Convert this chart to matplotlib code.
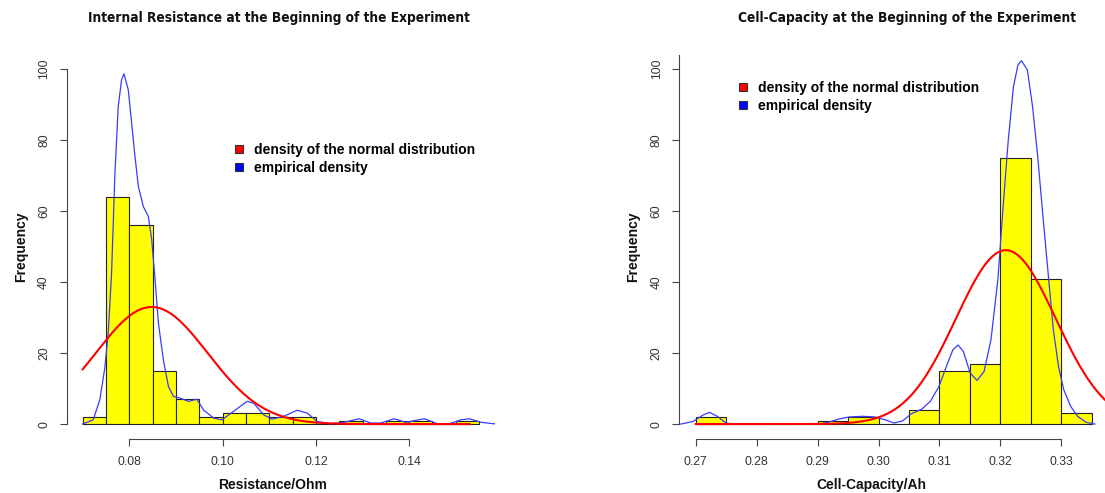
import numpy as np
import matplotlib
matplotlib.use("Agg")
import matplotlib.pyplot as plt
from matplotlib.patches import Patch

# --- data ---
# internal resistance histogram (bin edges in Ohm, counts)
res_edges = [0.070, 0.075, 0.080, 0.085, 0.090, 0.095, 0.100, 0.105, 0.110,
             0.115, 0.120, 0.125, 0.130, 0.135, 0.140, 0.145, 0.150, 0.155]
res_counts = [2, 64, 56, 15, 7, 2, 3, 3, 2, 2, 0, 1, 0, 1, 1, 0, 1]

# empirical density (scaled to frequency), traced points
res_kde_x = [0.06996, 0.07226, 0.07369, 0.07477, 0.07548, 0.07620, 0.07692, 0.07763,
             0.07835, 0.07885, 0.07978, 0.08050, 0.08122, 0.08194, 0.08301, 0.08409,
             0.08480, 0.08552, 0.08624, 0.08731, 0.08839, 0.08946, 0.09090, 0.09269,
             0.09448, 0.09591, 0.09806, 0.09986, 0.10237, 0.10523, 0.10667, 0.10882,
             0.11061, 0.11312, 0.11599, 0.11814, 0.12029, 0.12315, 0.12602, 0.12925,
             0.13176, 0.13391, 0.13677, 0.13928, 0.14323, 0.14609, 0.14860, 0.15111,
             0.15290, 0.15541, 0.15878]
res_kde_y = [0, 1.2, 6.9, 16.0, 25.6, 42.5, 70.7, 89.5,
             97.0, 98.7, 94.2, 84.8, 75.4, 67.0, 61.3, 58.5,
             52.0, 40.7, 28.5, 18.0, 10.6, 7.8, 7.3, 6.4,
             7.0, 4.0, 1.7, 1.2, 3.6, 6.4, 5.9, 2.6,
             1.4, 2.2, 3.9, 3.1, 0.75, 0.1, 0.5, 1.5,
             0.3, 0.3, 1.5, 0.5, 1.5, 0.1, 0.1, 1.2,
             1.5, 0.5, 0]
# normal fit: mean, sd, peak height (frequency)
res_mean, res_sd, res_peak = 0.0848, 0.0120, 33.0
res_range = (0.070, 0.153)

# cell capacity histogram
cap_edges = [0.270, 0.275, 0.280, 0.285, 0.290, 0.295, 0.300, 0.305, 0.310,
             0.315, 0.320, 0.325, 0.330, 0.335]
cap_counts = [2, 0, 0, 0, 1, 2, 0, 4, 15, 17, 75, 41, 3]

cap_kde_x = [0.26755, 0.26955, 0.27125, 0.27227, 0.27353, 0.27495, 0.27637, 0.29002,
             0.29173, 0.29343, 0.29514, 0.29741, 0.29940, 0.30111, 0.30253, 0.30395,
             0.30537, 0.30708, 0.30850, 0.30992, 0.31135, 0.31220, 0.31305, 0.31391,
             0.31504, 0.31618, 0.31732, 0.31846, 0.31959, 0.32045, 0.32130, 0.32215,
             0.32289, 0.32346, 0.32443, 0.32528, 0.32613, 0.32699, 0.32784, 0.32869,
             0.32955, 0.33040, 0.33154, 0.33267, 0.33410, 0.33552]
cap_kde_y = [0, 0.75, 2.6, 3.3, 2.2, 0.3, 0, 0,
             0.5, 1.4, 2.0, 2.2, 2.0, 1.2, 0.3, 0.9,
             2.9, 4.2, 6.4, 10.6, 17.2, 20.9, 22.3, 20.5,
             14.4, 12.3, 14.8, 23.8, 40.7, 61.3, 80.1, 95.1,
             101.2, 102.4, 99.8, 89.5, 75.4, 58.5, 42.5, 26.6,
             16.2, 9.7, 5.0, 2.2, 0.5, 0]
cap_mean, cap_sd, cap_peak = 0.3209, 0.0082, 49.0
cap_range = (0.270, 0.338)

res_ticks = [0.08, 0.10, 0.12, 0.14]
cap_ticks = [0.27, 0.28, 0.29, 0.30, 0.31, 0.32, 0.33]
y_ticks = [0, 20, 40, 60, 80, 100]

TXT = "#333333"
W, H = 1105, 493


def panel(ax, edges, counts, kde_x, kde_y, mean, sd, peak, rng, xticks, fmt, ytop):
    ax.bar(edges[:-1], counts, width=np.diff(edges), align="edge",
           color="#ffff00", edgecolor="#222222", linewidth=0.8, zorder=2)
    ax.plot(kde_x, kde_y, color="#3a3aff", linewidth=0.9, zorder=3)
    xs = np.linspace(rng[0], rng[1], 300)
    ax.plot(xs, peak * np.exp(-0.5 * ((xs - mean) / sd) ** 2),
            color="#ff0000", linewidth=1.5, zorder=4)

    for s in ["top", "right"]:
        ax.spines[s].set_visible(False)
    ax.spines["left"].set_bounds(0, ytop)
    ax.spines["bottom"].set_bounds(xticks[0], xticks[-1])
    for s in ["left", "bottom"]:
        ax.spines[s].set_color("#444444")
        ax.spines[s].set_linewidth(0.8)

    ax.set_xticks(xticks)
    ax.set_xticklabels([fmt.format(t) for t in xticks])
    ax.set_yticks(y_ticks)
    ax.set_yticklabels([str(t) for t in y_ticks], rotation=90, va="center")
    ax.tick_params(length=5, width=0.8, color="#444444", labelcolor=TXT,
                   labelsize=8.7, pad=7)
    for lab in ax.get_xticklabels() + ax.get_yticklabels():
        lab.set_family("Liberation Sans")
    ax.set_ylim(-4.2, 104)
    ax.text(-0.107, 0.5, "Frequency", transform=ax.transAxes, rotation=90,
            ha="center", va="center", fontsize=10, fontweight="bold",
            family="Liberation Sans", color="#111111")


fig = plt.figure(figsize=(W / 100, H / 100), dpi=100)

ax1 = fig.add_axes([66.7 / W, 1 - 439 / H, 428.3 / W, 384 / H])
ax1.set_xlim(0.06658, 0.1584)
panel(ax1, res_edges, res_counts, res_kde_x, res_kde_y,
      res_mean, res_sd, res_peak, res_range, res_ticks, "{:.2f}", 100)

ax2 = fig.add_axes([679.3 / W, 1 - 439 / H, 428.3 / W, 384 / H])
ax2.set_xlim(0.2673, 0.3376)
panel(ax2, cap_edges, cap_counts, cap_kde_x, cap_kde_y,
      cap_mean, cap_sd, cap_peak, cap_range, cap_ticks, "{:.2f}", 104)

# axis labels
fig.text(272.5 / W, 1 - 485 / H, "Resistance/Ohm", ha="center", va="center",
         fontsize=10, fontweight="bold", family="Liberation Sans", color="#111111")
fig.text(871.3 / W, 1 - 485 / H, "Cell-Capacity/Ah", ha="center", va="center",
         fontsize=10, fontweight="bold", family="Liberation Sans", color="#111111")

# titles
fig.text(278.5 / W, 1 - 18 / H, "Internal Resistance at the Beginning of the Experiment",
         ha="center", va="center", fontsize=9.8, fontweight="bold",
         family="DejaVu Sans", fontstretch="condensed", color="#111111")
fig.text(906.5 / W, 1 - 18 / H, "Cell-Capacity at the Beginning of the Experiment",
         ha="center", va="center", fontsize=9.8, fontweight="bold",
         family="DejaVu Sans", fontstretch="condensed", color="#111111")

# legends
handles = [Patch(facecolor="#ff0000", edgecolor="#333333", linewidth=0.8),
           Patch(facecolor="#0000ff", edgecolor="#333333", linewidth=0.8)]
labels = ["density of the normal distribution", "empirical density"]
for ax, (lx, ly) in [(ax1, (235, 143)), (ax2, (739, 81))]:
    ax.legend(handles, labels, loc="upper left",
              bbox_to_anchor=(lx / W, 1 - ly / H), bbox_transform=fig.transFigure,
              frameon=False, borderpad=0, borderaxespad=0,
              handlelength=0.6, handleheight=0.55, handletextpad=0.75,
              labelspacing=0.28,
              prop={"family": "Liberation Sans", "weight": "bold", "size": 10})

fig.savefig("out.png", dpi=100)
